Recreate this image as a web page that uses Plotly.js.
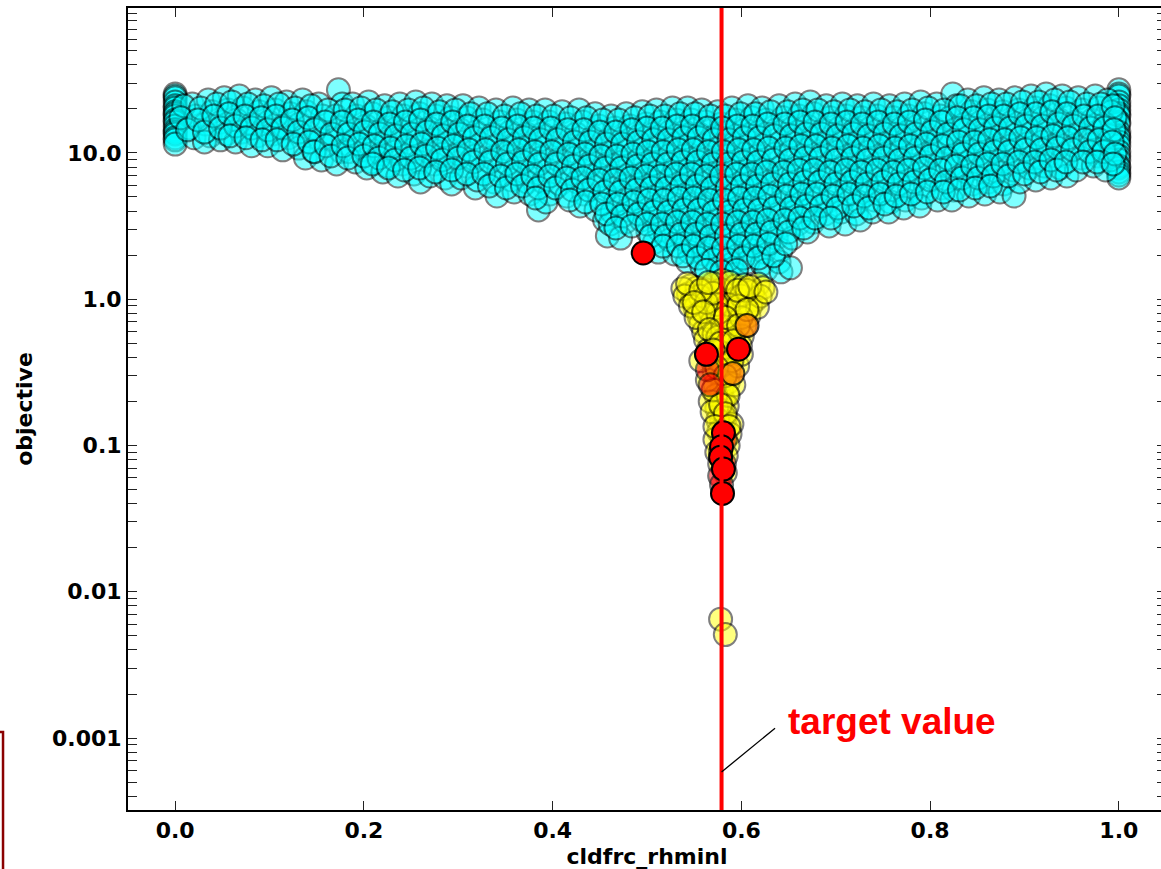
<!DOCTYPE html>
<html>
<head>
<meta charset="utf-8">
<script src="https://cdn.plot.ly/plotly-3.0.1.min.js"></script>
<style>
  html, body { margin: 0; padding: 0; overflow: hidden; background: #ffffff; }
  #chart { width: 1170px; height: 869px; }
</style>
</head>
<body>
<div id="chart"></div>
<script>
// Objective values sampled over the cldfrc_rhminl parameter.
// Early samples (cyan), later samples (yellow), intermediate (orange) and best (red).

const cyanX = [
  0,0,0,0,0,0,0,0,0,0,0,0,0,0,0,0,0,0,
  1,1,1,1,1,1,1,1,1,1,1,1,1,1,1,1,1,1,1,1,1,1,1,
  0.018,0.022,0.015,0.020,
  0.035,0.039,0.032,0.037,0.031,
  0.052,0.056,0.049,0.054,0.048,
  0.068,0.072,0.065,0.070,0.064,
  0.085,0.089,0.082,0.087,0.081,
  0.102,0.106,0.099,0.104,0.098,
  0.118,0.122,0.115,0.120,0.114,
  0.135,0.139,0.132,0.137,0.131,0.138,
  0.152,0.156,0.149,0.154,0.148,0.155,
  0.173,0.177,0.170,0.175,0.169,0.176,0.171,
  0.188,0.192,0.185,0.190,0.184,0.191,
  0.205,0.209,0.202,0.207,0.201,0.208,0.203,
  0.222,0.226,0.219,0.224,0.218,0.225,0.220,
  0.238,0.242,0.235,0.240,0.234,0.241,0.236,
  0.255,0.259,0.252,0.257,0.251,0.258,0.253,0.260,
  0.272,0.276,0.269,0.274,0.268,0.275,0.270,
  0.288,0.292,0.285,0.290,0.284,0.291,0.286,0.293,
  0.305,0.309,0.302,0.307,0.301,0.308,0.303,
  0.318,
  0.322,0.326,0.319,0.324,0.318,0.325,0.320,
  0.340,0.344,0.337,0.342,0.336,0.343,0.338,0.341,
  0.358,0.362,0.355,0.360,0.354,0.361,0.356,0.359,
  0.375,0.379,0.372,0.377,0.371,0.378,0.373,0.376,
  0.385,
  0.392,0.396,0.389,0.394,0.388,0.395,0.390,0.397,0.393,
  0.410,0.414,0.407,0.412,0.406,0.413,0.408,0.415,
  0.428,0.432,0.425,0.430,0.424,0.431,0.426,0.433,0.429,
  0.445,0.449,0.442,0.447,0.441,0.448,0.443,0.450,0.446,
  0.455,0.458,
  0.462,0.466,0.459,0.464,0.458,0.465,0.460,0.467,0.463,0.461,
  0.478,0.482,0.475,0.480,0.474,0.481,0.476,0.483,0.479,0.477,0.472,
  0.495,0.499,0.492,0.497,0.491,0.498,0.493,0.500,0.496,0.494,0.501,
  0.510,0.514,0.507,0.512,0.506,0.513,0.508,0.515,0.511,0.509,0.513,0.508,0.512,
  0.527,0.531,0.524,0.529,0.523,0.530,0.525,0.532,0.528,0.526,0.530,0.524,0.529,
  0.543,0.547,0.540,0.545,0.539,0.546,0.541,0.548,0.544,0.542,0.546,0.540,0.545,0.543,
  0.558,0.562,0.555,0.560,0.554,0.561,0.556,0.563,0.559,0.557,0.561,0.555,0.560,0.558,
  0.575,0.579,0.572,0.577,0.571,0.578,0.573,0.580,0.576,0.574,0.578,0.572,0.577,0.575,
  0.590,0.594,0.587,0.592,0.586,0.593,0.588,0.595,0.591,0.589,0.593,0.587,0.592,0.590,0.594,
  0.607,0.611,0.604,0.609,0.603,0.610,0.605,0.612,0.608,0.606,0.610,0.604,0.609,0.607,
  0.622,0.626,0.619,0.624,0.618,0.625,0.620,0.627,0.623,0.621,0.625,0.619,0.624,0.622,0.626,
  0.640,0.644,0.637,0.642,0.636,0.643,0.638,0.645,0.641,0.639,0.643,0.637,0.642,0.640,0.642,
  0.652,
  0.657,0.661,0.654,0.659,0.653,0.660,0.655,0.662,0.658,0.656,0.660,0.654,
  0.673,0.677,0.670,0.675,0.669,0.676,0.671,0.678,0.674,0.672,0.676,0.670,
  0.690,0.694,0.687,0.692,0.686,0.693,0.688,0.695,0.691,0.689,0.693,
  0.707,0.711,0.704,0.709,0.703,0.710,0.705,0.712,0.708,0.706,0.710,
  0.723,0.727,0.720,0.725,0.719,0.726,0.721,0.728,0.724,0.722,0.726,
  0.740,0.744,0.737,0.742,0.736,0.743,0.738,0.745,0.741,0.739,
  0.757,0.761,0.754,0.759,0.753,0.760,0.755,0.762,0.758,0.756,
  0.773,0.777,0.770,0.775,0.769,0.776,0.771,0.778,0.774,0.772,
  0.790,0.794,0.787,0.792,0.786,0.793,0.788,0.795,0.791,0.789,
  0.807,0.811,0.804,0.809,0.803,0.810,0.805,0.812,0.808,
  0.824,0.828,0.821,0.826,0.820,0.827,0.822,0.829,0.825,0.823,
  0.840,0.844,0.837,0.842,0.836,0.843,0.838,0.845,0.841,
  0.857,0.861,0.854,0.859,0.853,0.860,0.855,0.862,0.858,
  0.873,0.877,0.870,0.875,0.869,0.876,0.871,0.878,0.874,
  0.889,
  0.890,0.894,0.887,0.892,0.886,0.893,0.888,0.895,
  0.907,0.911,0.904,0.909,0.903,0.910,0.905,0.912,
  0.923,0.927,0.920,0.925,0.919,0.926,0.921,0.928,
  0.940,0.944,0.937,0.942,0.936,0.943,0.938,0.945,
  0.957,0.961,0.954,0.959,0.953,0.960,0.955,
  0.975,0.979,0.972,0.977,0.971,0.978,0.973,
  0.988,0.992,0.985,0.990,0.984,0.991,0.986,
  // interleaved samples
  0.009,0.006,0.013,
  0.027,0.024,0.031,
  0.044,0.041,0.048,
  0.060,0.057,0.064,0.058,
  0.077,0.074,0.081,0.075,
  0.094,0.091,0.098,0.092,
  0.110,0.107,0.114,0.108,
  0.127,0.124,0.131,0.125,
  0.144,0.141,0.148,0.142,0.147,
  0.162,0.159,0.166,0.160,0.165,
  0.180,0.177,0.184,0.178,0.183,
  0.197,0.194,0.201,0.195,0.200,
  0.213,0.210,0.217,0.211,0.216,0.209,
  0.230,0.227,0.234,0.228,0.233,0.226,
  0.247,0.244,0.251,0.245,0.250,0.243,
  0.263,0.260,0.267,0.261,0.266,0.259,
  0.280,0.277,0.284,0.278,0.283,0.276,
  0.297,0.294,0.301,0.295,0.300,0.293,
  0.313,0.310,0.317,0.311,0.316,0.309,
  0.331,0.328,0.335,0.329,0.334,0.327,0.333,
  0.349,0.346,0.353,0.347,0.352,0.345,0.351,
  0.366,0.363,0.370,0.364,0.369,0.362,0.368,
  0.383,0.380,0.387,0.381,0.386,0.379,0.385,0.382,
  0.401,0.398,0.405,0.399,0.404,0.397,0.403,
  0.419,0.416,0.423,0.417,0.422,0.415,0.421,0.418,
  0.436,0.433,0.440,0.434,0.439,0.432,0.438,0.435,
  0.453,0.450,0.457,0.451,0.456,0.449,0.455,0.452,0.457,
  0.470,0.467,0.474,0.468,0.473,0.466,0.472,0.469,0.474,0.467,
  0.487,0.484,0.491,0.485,0.490,0.483,0.489,0.486,0.491,0.484,
  0.503,0.500,0.507,0.501,0.506,0.499,0.505,0.502,0.507,0.500,0.504,
  0.519,0.516,0.523,0.517,0.522,0.515,0.521,0.518,0.523,0.516,0.520,0.517,
  0.535,0.532,0.539,0.533,0.538,0.531,0.537,0.534,0.539,0.532,0.536,0.533,0.538,
  0.551,0.548,0.555,0.549,0.554,0.547,0.553,0.550,0.555,0.548,0.552,0.549,0.554,
  0.567,0.564,0.571,0.565,0.570,0.563,0.569,0.566,0.571,0.564,0.568,0.565,0.570,0.563,
  0.583,0.580,0.587,0.581,0.586,0.579,0.585,0.582,0.587,0.580,0.584,0.581,0.586,0.579,
  0.599,0.596,0.603,0.597,0.602,0.595,0.601,0.598,0.603,0.596,0.600,0.597,0.602,0.595,
  0.615,0.612,0.619,0.613,0.618,0.611,0.617,0.614,0.619,0.612,0.616,0.613,0.618,
  0.631,0.628,0.635,0.629,0.634,0.627,0.633,0.630,0.635,0.628,0.632,0.629,0.634,
  0.649,0.646,0.653,0.647,0.652,0.645,0.651,0.648,0.653,0.646,0.650,0.647,
  0.665,0.662,0.669,0.663,0.668,0.661,0.667,0.664,0.669,0.662,0.666,
  0.681,0.678,0.685,0.679,0.684,0.677,0.683,0.680,0.685,0.678,
  0.698,0.695,0.702,0.696,0.701,0.694,0.700,0.697,0.702,0.695,
  0.715,0.712,0.719,0.713,0.718,0.711,0.717,0.714,0.719,
  0.731,0.728,0.735,0.729,0.734,0.727,0.733,0.730,0.735,
  0.748,0.745,0.752,0.746,0.751,0.744,0.750,0.747,0.752,
  0.765,0.762,0.769,0.763,0.768,0.761,0.767,0.764,
  0.781,0.778,0.785,0.779,0.784,0.777,0.783,0.780,
  0.798,0.795,0.802,0.796,0.801,0.794,0.800,0.797,
  0.815,0.812,0.819,0.813,0.818,0.811,0.817,0.814,
  0.832,0.829,0.836,0.830,0.835,0.828,0.834,0.831,
  0.849,0.846,0.853,0.847,0.852,0.845,0.851,0.848,
  0.865,0.862,0.869,0.863,0.868,0.861,0.867,0.864,
  0.881,0.878,0.885,0.879,0.884,0.877,0.883,
  0.898,0.895,0.902,0.896,0.901,0.894,0.900,
  0.915,0.912,0.919,0.913,0.918,0.911,0.917,
  0.932,0.929,0.936,0.930,0.935,0.928,0.934,
  0.948,0.945,0.952,0.946,0.951,0.944,
  0.966,0.963,0.970,0.964,0.969,0.962,
  0.981,0.978,0.985,0.979,0.984,0.977,
  0.994,0.996,0.995,0.993,0.996,0.994
];

const cyanY = [
  25.3,24.5,23.8,22.3,21.0,20.3,19.1,18.5,17.9,16.8,16.3,15.3,14.4,13.9,13.5,12.7,12.3,11.5,
  27.0,25.3,24.5,22.3,21.0,19.7,18.5,17.9,16.3,15.8,13.9,13.1,12.7,11.9,11.2,10.2,9.54,8.96,8.15,7.90,7.42,7.07,6.75,
  21.6,17.9,14.8,12.7,
  23.0,19.1,15.8,13.1,11.9,
  23.8,19.7,16.3,13.5,12.3,
  24.5,20.3,16.8,13.9,11.9,
  23.0,19.1,15.8,13.1,11.2,
  23.8,19.7,16.3,13.5,11.2,
  22.3,18.5,15.3,12.7,10.5,
  23.0,19.1,15.8,13.1,10.8,9.24,
  21.6,17.9,14.8,12.3,10.2,8.96,
  27.0,21.6,17.9,14.8,12.3,10.2,8.41,
  21.6,17.9,14.8,12.3,10.2,8.68,
  22.3,18.5,15.3,12.7,10.5,8.68,7.90,
  21.0,17.4,14.4,11.9,9.84,8.15,7.42,
  21.6,17.9,14.8,12.3,10.2,8.41,6.96,
  22.3,18.5,15.3,12.7,10.5,8.68,7.19,6.34,
  21.6,17.9,14.8,12.3,10.2,8.41,6.96,
  21.0,17.4,14.4,11.9,9.84,8.15,6.75,6.14,
  21.0,17.4,14.4,11.9,9.84,8.15,6.75,
  5.77,
  20.3,16.8,13.9,11.5,9.54,7.90,6.54,
  19.7,16.3,13.5,11.2,9.24,7.65,6.34,5.08,
  20.3,16.8,13.9,11.5,9.54,7.90,6.54,5.41,
  19.7,16.3,13.5,11.2,9.24,7.65,6.34,5.24,
  4.08,
  19.7,16.3,13.5,11.2,9.24,7.65,6.34,5.24,4.62,
  19.1,15.8,13.1,10.8,8.96,7.42,6.14,5.08,
  19.7,16.3,13.5,11.2,9.24,7.65,6.34,5.24,4.34,
  18.5,15.3,12.7,10.5,8.68,7.19,5.95,4.92,4.08,
  3.48,2.71,
  17.9,14.8,12.3,10.2,8.41,6.96,5.77,4.77,3.95,3.27,
  18.5,15.3,12.7,10.5,8.68,7.19,5.95,4.92,4.08,3.37,2.62,
  19.1,15.8,13.1,10.8,8.96,7.42,6.14,5.08,4.21,3.48,2.88,
  19.7,16.3,13.5,11.2,9.24,7.65,6.34,5.24,4.34,3.59,2.98,2.46,2.10,
  20.3,16.8,13.9,11.5,9.54,7.90,6.54,5.41,4.48,3.71,3.07,2.54,2.04,
  20.3,16.8,13.9,11.5,9.54,7.90,6.54,5.41,4.48,3.71,3.07,2.54,2.10,1.80,
  19.7,16.3,13.5,11.2,9.24,7.65,6.34,5.24,4.34,3.59,2.98,2.46,2.04,1.69,
  19.1,15.8,13.1,10.8,8.96,7.42,6.14,5.08,4.21,3.48,2.88,2.39,1.98,1.64,
  20.3,16.8,13.9,11.5,9.54,7.90,6.54,5.41,4.48,3.71,3.07,2.54,2.10,1.74,1.49,
  21.0,17.4,14.4,11.9,9.84,8.15,6.75,5.58,4.62,3.83,3.17,2.62,2.17,1.80,
  20.3,16.8,13.9,11.5,9.54,7.90,6.54,5.41,4.48,3.71,3.07,2.54,2.10,1.74,1.58,
  21.0,17.4,14.4,11.9,9.84,8.15,6.75,5.58,4.62,3.83,3.17,2.62,2.17,1.80,1.54,
  1.64,
  21.6,17.9,14.8,12.3,10.2,8.41,6.96,5.77,4.77,3.95,3.27,2.62,
  22.3,18.5,15.3,12.7,10.5,8.68,7.19,5.95,4.92,4.08,3.37,2.88,
  21.0,17.4,14.4,11.9,9.84,8.15,6.75,5.58,4.62,3.83,3.17,
  21.6,17.9,14.8,12.3,10.2,8.41,6.96,5.77,4.77,3.95,3.27,
  21.0,17.4,14.4,11.9,9.84,8.15,6.75,5.58,4.62,3.83,3.48,
  21.6,17.9,14.8,12.3,10.2,8.41,6.96,5.77,4.77,3.95,
  21.0,17.4,14.4,11.9,9.84,8.15,6.75,5.58,4.62,3.95,
  21.6,17.9,14.8,12.3,10.2,8.41,6.96,5.77,4.77,4.21,
  22.3,18.5,15.3,12.7,10.5,8.68,7.19,5.95,4.92,4.34,
  21.6,17.9,14.8,12.3,10.2,8.41,6.96,5.77,4.77,
  25.3,21.0,17.4,14.4,11.9,9.84,8.15,6.75,5.58,4.77,
  23.0,19.1,15.8,13.1,10.8,8.96,7.42,6.14,5.08,
  23.8,19.7,16.3,13.5,11.2,9.24,7.65,6.34,5.24,
  23.0,19.1,15.8,13.1,10.8,8.96,7.42,6.14,5.41,
  5.08,
  23.8,19.7,16.3,13.5,11.2,9.24,7.65,6.34,
  24.5,20.3,16.8,13.9,11.5,9.54,7.90,6.54,
  25.3,21.0,17.4,14.4,11.9,9.84,8.15,6.75,
  24.5,20.3,16.8,13.9,11.5,9.54,7.90,6.96,
  23.8,19.7,16.3,13.5,11.2,9.24,7.65,
  24.5,20.3,16.8,13.9,11.5,9.54,8.15,
  23.0,19.1,15.8,13.1,10.8,8.96,7.65,
  // interleaved samples
  21.0,17.4,14.4,
  20.3,16.8,13.9,
  21.6,17.9,14.8,
  22.3,18.5,15.3,13.1,
  21.6,17.9,14.8,12.7,
  21.0,17.4,14.4,12.3,
  21.6,17.9,14.8,12.3,
  20.3,16.8,13.9,11.5,
  21.0,17.4,14.4,11.9,10.2,
  19.7,16.3,13.5,11.2,9.54,
  19.7,16.3,13.5,11.2,9.24,
  20.3,16.8,13.9,11.5,9.54,
  19.7,16.3,13.5,11.2,9.24,8.41,
  19.1,15.8,13.1,10.8,8.96,7.90,
  19.7,16.3,13.5,11.2,9.24,7.65,
  20.3,16.8,13.9,11.5,9.54,7.90,
  19.1,15.8,13.1,10.8,8.96,7.42,
  19.7,16.3,13.5,11.2,9.24,7.65,
  18.5,15.3,12.7,10.5,8.68,7.19,
  18.5,15.3,12.7,10.5,8.68,7.19,5.95,
  17.9,14.8,12.3,10.2,8.41,6.96,5.77,
  18.5,15.3,12.7,10.5,8.68,7.19,5.95,
  17.9,14.8,12.3,10.2,8.41,6.96,5.77,4.92,
  17.9,14.8,12.3,10.2,8.41,6.96,5.77,
  17.4,14.4,11.9,9.84,8.15,6.75,5.58,4.77,
  17.4,14.4,11.9,9.84,8.15,6.75,5.58,4.62,
  16.8,13.9,11.5,9.54,7.90,6.54,5.41,4.48,3.83,
  16.8,13.9,11.5,9.54,7.90,6.54,5.41,4.48,3.71,3.07,
  17.4,14.4,11.9,9.84,8.15,6.75,5.58,4.62,3.83,3.17,
  17.9,14.8,12.3,10.2,8.41,6.96,5.77,4.77,3.95,3.27,2.71,
  17.9,14.8,12.3,10.2,8.41,6.96,5.77,4.77,3.95,3.27,2.71,2.31,
  18.5,15.3,12.7,10.5,8.68,7.19,5.95,4.92,4.08,3.37,2.79,2.31,1.98,
  18.5,15.3,12.7,10.5,8.68,7.19,5.95,4.92,4.08,3.37,2.79,2.31,1.91,
  17.9,14.8,12.3,10.2,8.41,6.96,5.77,4.77,3.95,3.27,2.71,2.24,1.86,1.58,
  17.9,14.8,12.3,10.2,8.41,6.96,5.77,4.77,3.95,3.27,2.71,2.24,1.86,1.54,
  18.5,15.3,12.7,10.5,8.68,7.19,5.95,4.92,4.08,3.37,2.79,2.31,1.91,1.58,
  18.5,15.3,12.7,10.5,8.68,7.19,5.95,4.92,4.08,3.37,2.79,2.31,1.91,
  19.1,15.8,13.1,10.8,8.96,7.42,6.14,5.08,4.21,3.48,2.88,2.39,1.98,
  19.1,15.8,13.1,10.8,8.96,7.42,6.14,5.08,4.21,3.48,2.88,2.39,
  19.7,16.3,13.5,11.2,9.24,7.65,6.34,5.24,4.34,3.59,3.07,
  19.7,16.3,13.5,11.2,9.24,7.65,6.34,5.24,4.34,3.59,
  19.1,15.8,13.1,10.8,8.96,7.42,6.14,5.08,4.21,3.59,
  19.7,16.3,13.5,11.2,9.24,7.65,6.34,5.24,4.34,
  19.1,15.8,13.1,10.8,8.96,7.42,6.14,5.08,4.21,
  19.7,16.3,13.5,11.2,9.24,7.65,6.34,5.24,4.48,
  19.1,15.8,13.1,10.8,8.96,7.42,6.14,5.08,
  19.7,16.3,13.5,11.2,9.24,7.65,6.34,5.24,
  20.3,16.8,13.9,11.5,9.54,7.90,6.54,5.41,
  19.7,16.3,13.5,11.2,9.24,7.65,6.34,5.41,
  21.0,17.4,14.4,11.9,9.84,8.15,6.75,5.58,
  21.0,17.4,14.4,11.9,9.84,8.15,6.75,5.77,
  21.6,17.9,14.8,12.3,10.2,8.41,6.96,5.95,
  21.6,17.9,14.8,12.3,10.2,8.41,6.96,
  22.3,18.5,15.3,12.7,10.5,8.68,7.19,
  22.3,18.5,15.3,12.7,10.5,8.68,7.42,
  23.0,19.1,15.8,13.1,10.8,8.96,7.65,
  22.3,18.5,15.3,12.7,10.5,8.68,
  21.6,17.9,14.8,12.3,10.2,8.68,
  21.6,17.9,14.8,12.3,10.2,8.68,
  21.0,17.4,14.4,11.9,9.84,8.41
];

const yellowX = [
  0.546,0.544,0.548,0.551,0.555,0.557,0.560,0.562,0.565,
  0.562,0.565,0.567,0.569,0.571,0.573,
  0.580,0.579,0.580,0.581,0.579,0.580,0.581,0.580,0.579,0.581,0.580,0.579,0.581,0.580,0.579,0.581,0.580,
  0.594,0.595,0.593,0.592,0.591,0.590,0.589,0.587,0.586,0.585,0.585,0.583,
  0.618,0.612,0.615,0.610,0.608,0.604,0.601,0.599,
  0.569,0.571,0.572,0.573,0.574,0.575,0.576,
  0.553,0.570,0.588,0.603,0.600,0.556,0.586,0.574,
  0.538,0.540,0.623,0.620,0.617,0.546,0.552,0.567,0.569,0.590,0.588,0.572,0.586,
  0.574,0.584,0.577,0.583,0.564,0.592,0.596,0.600,0.557,0.585,0.575,0.588,0.575,
  0.600,0.563,0.570,0.606,0.597,
  0.543,0.557,0.565,0.596,0.609,0.626,
  0.550,0.560,0.583,0.597,0.606,0.566,0.578,0.592,0.570,0.590,0.574,0.583,
  0.570,0.586,0.578,0.583,0.572,0.587,
  0.578,0.583
];
const yellowY = [
  1.23,1.09,0.99,0.87,0.77,0.68,0.60,0.53,0.45,
  1.16,0.99,0.82,0.70,0.58,0.48,
  1.35,1.16,0.99,0.84,0.72,0.62,0.53,0.45,0.38,0.33,0.28,0.24,0.205,0.175,0.149,0.128,0.109,
  1.23,1.02,0.84,0.70,0.58,0.48,0.40,0.33,0.27,0.225,0.186,0.154,
  1.27,1.12,0.99,0.90,0.77,0.66,0.56,0.48,
  0.38,0.32,0.26,0.22,0.18,0.15,0.124,
  1.20,1.28,1.30,1.25,1.05,1.05,0.92,0.92,
  1.18,1.05,1.20,1.05,0.88,0.90,0.75,0.20,0.17,0.14,0.12,0.11,0.10,
  0.09,0.085,0.075,0.065,0.28,0.26,0.35,0.42,0.38,0.42,0.55,0.60,0.80,
  0.75,0.95,1.10,1.15,0.90,
  1.28,1.15,1.30,1.15,1.22,1.12,
  0.95,0.82,0.75,0.66,0.85,0.62,0.50,0.52,0.45,0.38,0.34,0.30,
  0.24,0.22,0.19,0.165,0.135,0.135,
  0.0065,0.0051
];

const orangeX = [0.606, 0.591];
const orangeY = [0.66, 0.31];

const fadedRedX = [0.564, 0.567, 0.583, 0.578, 0.582, 0.577, 0.579];
const fadedRedY = [0.33, 0.26, 0.11, 0.09, 0.075, 0.062, 0.054];

const redX = [0.496, 0.563, 0.597, 0.581, 0.579, 0.578, 0.581, 0.580];
const redY = [2.07, 0.42, 0.455, 0.122, 0.098, 0.083, 0.069, 0.047];

const targetValue = 0.579;

const xTickVals = [0, 0.2, 0.4, 0.6, 0.8, 1.0];
const xTickText = ['0.0', '0.2', '0.4', '0.6', '0.8', '1.0'];
const yTickVals = [0.001, 0.01, 0.1, 1, 10];
const yTickText = ['0.001', '0.01', '0.1', '1.0', '10.0'];
const minorDecades = [0.0001, 0.001, 0.01, 0.1, 1, 10];
const minorSteps = [2, 3, 4, 5, 6, 7, 8, 9];

const yMinorVals = [];
minorDecades.forEach(d => minorSteps.forEach(s => yMinorVals.push(+(d * s).toPrecision(3))));

const tickFont = { family: 'DejaVu Sans', size: 22, color: '#000000', weight: 'bold' };
const titleFont = { family: 'DejaVu Sans', size: 22, color: '#000000', weight: 'bold' };

function markerTrace(x, y, fill, opacity) {
  return {
    type: 'scatter', mode: 'markers', x: x, y: y,
    hoverinfo: 'skip', showlegend: false, cliponaxis: true,
    marker: { size: 23, color: fill, opacity: opacity,
              line: { color: '#000000', width: 2 } }
  };
}

const traces = [
  markerTrace(cyanX, cyanY, 'rgb(0,255,255)', 0.5),
  markerTrace(yellowX, yellowY, 'rgb(255,255,0)', 0.5),
  markerTrace(orangeX, orangeY, 'rgb(255,128,0)', 0.75),
  markerTrace(fadedRedX, fadedRedY, 'rgb(255,0,0)', 0.55),
  markerTrace(redX, redY, 'rgb(255,0,0)', 1),
  {
    type: 'scatter', mode: 'lines',
    x: [targetValue, targetValue], y: [1e-5, 1e4],
    line: { color: '#ff0000', width: 4 },
    hoverinfo: 'skip', showlegend: false
  }
];

const layout = {
  width: 1170, height: 869,
  margin: { l: 128, r: 4, t: 8, b: 59 },
  paper_bgcolor: '#ffffff', plot_bgcolor: '#ffffff',
  showlegend: false, hovermode: false,
  xaxis: {
    range: [-0.05, 1.05],
    tickmode: 'array', tickvals: xTickVals, ticktext: xTickText,
    ticks: 'inside', ticklen: 9, tickwidth: 1, tickcolor: '#222222',
    showline: true, linecolor: '#000000', linewidth: 2, mirror: 'allticks',
    showgrid: false, zeroline: false,
    tickfont: tickFont,
    title: { text: 'cldfrc_rhminl', font: titleFont, standoff: 6 }
  },
  yaxis: {
    type: 'log', range: [-3.492, 1.991],
    tickmode: 'array', tickvals: yTickVals, ticktext: yTickText,
    ticks: 'inside', ticklen: 9, tickwidth: 1, tickcolor: '#222222',
    minor: { tickmode: 'array', tickvals: yMinorVals, ticks: 'inside', ticklen: 9,
             tickwidth: 1, tickcolor: '#222222', showgrid: false },
    showline: true, linecolor: '#000000', linewidth: 2, mirror: 'allticks',
    showgrid: false, zeroline: false,
    tickfont: tickFont,
    title: { text: 'objective', font: titleFont, standoff: 13 }
  },
  annotations: [
    {
      x: targetValue, y: Math.log10(0.000586), xref: 'x', yref: 'y',
      text: '', showarrow: true, arrowhead: 0, arrowwidth: 1.3,
      arrowcolor: '#000000', ax: 55, ay: -45, standoff: 0, startstandoff: 0
    },
    {
      x: 0.6474, y: Math.log10(0.00129), xref: 'x', yref: 'y',
      text: 'target value', showarrow: false,
      xanchor: 'left', yanchor: 'middle',
      font: { family: 'Liberation Sans', size: 37, color: '#ff0000', weight: 'bold' }
    }
  ],
  shapes: [
    {
      type: 'rect', xref: 'paper', yref: 'paper',
      x0: -0.3, x1: -0.1204, y0: -0.2, y1: 0.0973,
      line: { color: '#8b0000', width: 2.5 }, fillcolor: 'rgba(0,0,0,0)'
    }
  ]
};

Plotly.newPlot('chart', traces, layout, { staticPlot: true, displayModeBar: false });
</script>
</body>
</html>
